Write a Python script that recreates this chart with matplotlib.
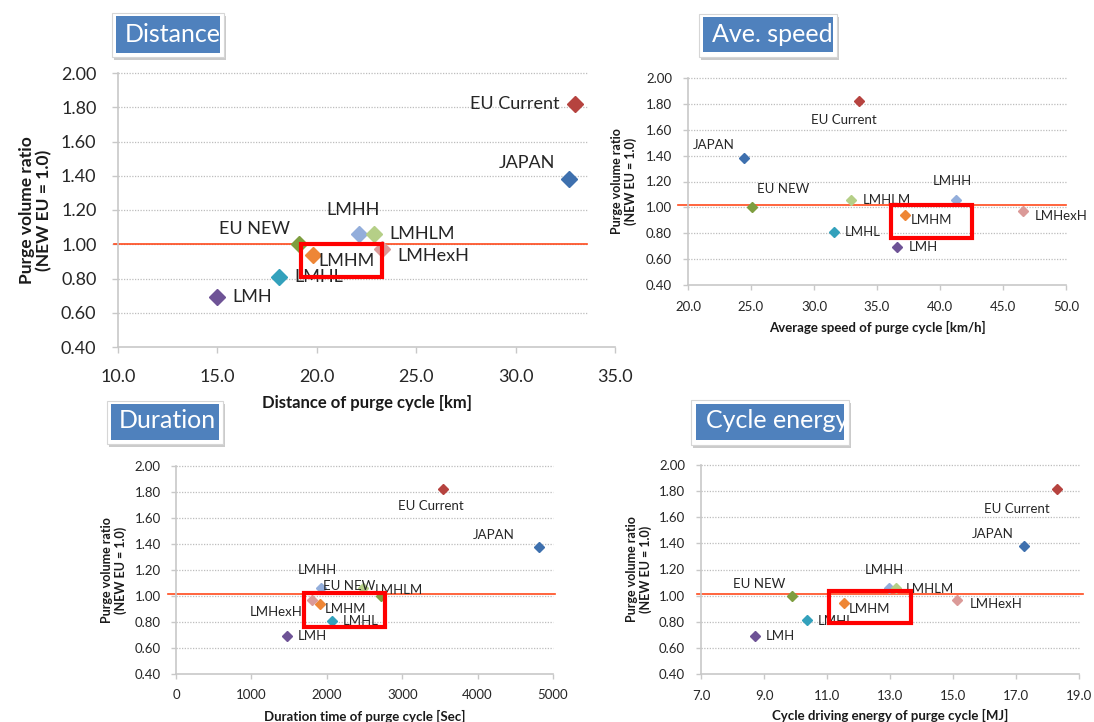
import numpy as np
import matplotlib
matplotlib.use('Agg')
import matplotlib.pyplot as plt
from matplotlib.patches import Rectangle
from matplotlib.ticker import FormatStrFormatter, MultipleLocator

plt.rcParams['font.family'] = ['Lato', 'DejaVu Sans']

W, H = 1094, 722

# Series (same order in all four charts)
names = ['EU Current', 'JAPAN', 'EU NEW', 'LMH', 'LMHL', 'LMHM', 'LMHH', 'LMHLM', 'LMHexH']
purge_ratio = [1.82, 1.38, 1.00, 0.69, 0.81, 0.94, 1.06, 1.06, 0.97]

# x values for each chart
distance_km = [32.98, 32.67, 19.1, 15.0, 18.1, 19.8, 22.1, 22.9, 23.3]
speed_kmh = [33.6, 24.45, 25.1, 36.55, 31.6, 37.25, 41.3, 32.9, 46.55]
duration_sec = [3540, 4815, 2720, 1470, 2065, 1915, 1925, 2475, 1800]
energy_mj = [18.3, 17.25, 9.9, 8.7, 10.35, 11.55, 12.98, 13.18, 15.14]

# reference line (NEW EU = 1.0) as drawn in each chart
ref_line = [1.0, 1.015, 1.015, 1.015]

colors = ['#B6433F', '#3E70AE', '#7E9E3F', '#6E5396', '#33A1BC',
          '#EE8636', '#93AEDB', '#B5CF87', '#DB9A98']

# label offsets in pixels (dx, dy, ha) per chart
off_distance = [(-15, 0, 'right'), (-14, 16, 'right'), (-9, 15, 'right'), (15, 0, 'left'),
                (15, 0, 'left'), (6, -6, 'left'), (-5, 24, 'center'), (15, 0, 'left'), (15, -7, 'left')]
off_speed = [(-15, -19, 'center'), (-30, 13, 'center'), (31, 18, 'center'), (12, 0, 'left'),
             (11, 0, 'left'), (5, -5, 'left'), (-4, 19, 'center'), (12, 0, 'left'), (12, -5, 'left')]
off_duration = [(-12, -17, 'center'), (-45, 12, 'center'), (-32, 10, 'center'), (11, 0, 'left'),
                (11, 0, 'left'), (4, -5, 'left'), (-4, 18, 'center'), (12, -2, 'left'), (-9, -12, 'right')]
off_energy = [(-40, -20, 'center'), (-31, 12, 'center'), (-33, 12, 'center'), (11, 0, 'left'),
              (11, -1, 'left'), (4, -6, 'left'), (-5, 18, 'center'), (10, -1, 'left'), (12, -4, 'left')]


def fig_rect(x0, y0, x1, y1):
    # pixel box (origin top-left) -> figure fraction [left, bottom, width, height]
    return [x0 / W, 1 - y1 / H, (x1 - x0) / W, (y1 - y0) / H]


panels = [
    dict(ax_box=(118, 73, 615, 347), x=distance_km, xticks=np.arange(10, 35.1, 5), xfmt='%.1f',
         xlabel='Distance of purge cycle [km]', ref=ref_line[0], ref_span=(-0.008, 0.943), grid_end=0.946,
         tick_fs=13, lab_fs=13, axlab_fs=12, ylab_fs=12.5, ms=8, tick_len=4, pad=11.5,
         ylab_x=-0.132, xlab_y=-0.175, offsets=off_distance,
         title='Distance', frame=(112, 13, 224, 57), tbox=(116, 16, 220, 53), txy=(125, 35),
         red=(301, 244, 382, 277)),
    dict(ax_box=(688, 78, 1066, 285), x=speed_kmh, xticks=np.arange(20, 50.1, 5), xfmt='%.1f',
         xlabel='Average speed of purge cycle [km/h]', ref=ref_line[1], ref_span=(-0.027, 0.999), grid_end=1.0,
         tick_fs=9.5, lab_fs=9.5, axlab_fs=9.5, ylab_fs=9, ms=5.2, tick_len=3.5, pad=8,
         ylab_x=-0.136, xlab_y=-0.172, offsets=off_speed,
         title='Ave. speed', frame=(699, 14, 837, 57), tbox=(703, 17, 833, 52), txy=(712, 35),
         red=(891, 205, 972, 238)),
    dict(ax_box=(176, 466, 553, 674), x=duration_sec, xticks=np.arange(0, 5001, 1000), xfmt='%d',
         xlabel='Duration time of purge cycle [Sec]', ref=ref_line[2], ref_span=(-0.02, 1.005), grid_end=1.0,
         tick_fs=9.5, lab_fs=9.5, axlab_fs=9.5, ylab_fs=9, ms=5.2, tick_len=3.5, pad=7.5,
         ylab_x=-0.131, xlab_y=-0.173, offsets=off_duration,
         title='Duration', frame=(107, 401, 223, 444), tbox=(111, 404, 219, 440), txy=(119, 421),
         red=(304, 593, 385, 627)),
    dict(ax_box=(701, 465, 1079, 674), x=energy_mj, xticks=np.arange(7, 19.1, 2), xfmt='%.1f',
         xlabel='Cycle driving energy of purge cycle [MJ]', ref=ref_line[3], ref_span=(-0.011, 1.011), grid_end=1.0,
         tick_fs=9.5, lab_fs=9.5, axlab_fs=9.5, ylab_fs=9, ms=5.2, tick_len=3.5, pad=8,
         ylab_x=-0.130, xlab_y=-0.167, offsets=off_energy,
         title='Cycle energy', frame=(691, 400, 849, 445), tbox=(696, 404, 844, 440), txy=(706, 421),
         red=(829, 591, 911, 623)),
]

fig = plt.figure(figsize=(W / 100, H / 100), dpi=100)
fig.patch.set_facecolor('white')

for p in panels:
    ax = fig.add_axes(fig_rect(*p['ax_box']))
    ax.set_xlim(p['xticks'][0], p['xticks'][-1])
    ax.set_ylim(0.4, 2.0)
    ax.set_xticks(p['xticks'])
    ax.yaxis.set_major_locator(MultipleLocator(0.2))
    ax.xaxis.set_major_formatter(FormatStrFormatter(p['xfmt']))
    ax.yaxis.set_major_formatter(FormatStrFormatter('%.2f'))

    for side in ['top', 'right']:
        ax.spines[side].set_visible(False)
    for side in ['left', 'bottom']:
        ax.spines[side].set_color('#C8C8C8')
        ax.spines[side].set_linewidth(1.2)
    ax.tick_params(direction='out', length=p['tick_len'], width=1, color='#C8C8C8',
                   labelsize=p['tick_fs'], labelcolor='#262626', pad=p['pad'])

    # dotted horizontal gridlines
    for yv in ax.get_yticks():
        if 0.41 < yv < 2.01:
            ax.plot([0, p['grid_end']], [yv, yv], transform=ax.get_yaxis_transform(),
                    color='#BDBDBD', lw=0.9, ls=(0, (1, 1.2)), zorder=1, clip_on=False)

    # red reference line
    ax.plot(p['ref_span'], [p['ref'], p['ref']], transform=ax.get_yaxis_transform(),
            color='#FF4A1C', lw=1.2, zorder=2, clip_on=False)

    for i, name in enumerate(names):
        ax.plot(p['x'][i], purge_ratio[i], marker='D', ms=p['ms'], color=colors[i],
                mec=colors[i], ls='none', zorder=3, clip_on=False)
        dx, dy, ha = p['offsets'][i]
        ax.annotate(name, (p['x'][i], purge_ratio[i]), xytext=(dx, dy),
                    textcoords='offset pixels', ha=ha, va='center',
                    fontsize=p['lab_fs'], color='#262626', zorder=4)

    ax.set_xlabel(p['xlabel'], fontsize=p['axlab_fs'], fontweight='bold', color='#1a1a1a')
    ax.set_ylabel('Purge volume ratio\n(NEW EU = 1.0)', fontsize=p['ylab_fs'],
                  fontweight='bold', color='#1a1a1a', linespacing=1.1)
    ax.xaxis.set_label_coords(0.5, p['xlab_y'])
    ax.yaxis.set_label_coords(p['ylab_x'], 0.5)

    # highlight box around LMHM
    x0, y0, x1, y1 = p['red']
    fig.patches.append(Rectangle((x0 / W, 1 - y1 / H), (x1 - x0) / W, (y1 - y0) / H,
                                 transform=fig.transFigure, fill=False,
                                 edgecolor='#FF0000', lw=3, zorder=10))

    # title tag: shadow, white frame, blue box, clipped white text
    fx0, fy0, fx1, fy1 = p['frame']
    fig.patches.append(Rectangle((fx0 / W + 2 / W, 1 - (fy1 + 3) / H), (fx1 - fx0) / W, (fy1 - fy0) / H,
                                 transform=fig.transFigure, facecolor='#8C8C8C', alpha=0.45,
                                 edgecolor='none', zorder=11))
    fig.patches.append(Rectangle((fx0 / W, 1 - fy1 / H), (fx1 - fx0) / W, (fy1 - fy0) / H,
                                 transform=fig.transFigure, facecolor='white',
                                 edgecolor='#D6D6D6', lw=0.8, zorder=12))
    bx0, by0, bx1, by1 = p['tbox']
    blue = Rectangle((bx0 / W, 1 - by1 / H), (bx1 - bx0) / W, (by1 - by0) / H,
                     transform=fig.transFigure, facecolor='#4F81BD', edgecolor='none', zorder=13)
    fig.patches.append(blue)
    t = fig.text(p['txy'][0] / W, 1 - p['txy'][1] / H, p['title'], color='white',
                 fontsize=18, ha='left', va='center', zorder=14)
    t.set_clip_path(blue)

fig.savefig('out.png', dpi=100)
